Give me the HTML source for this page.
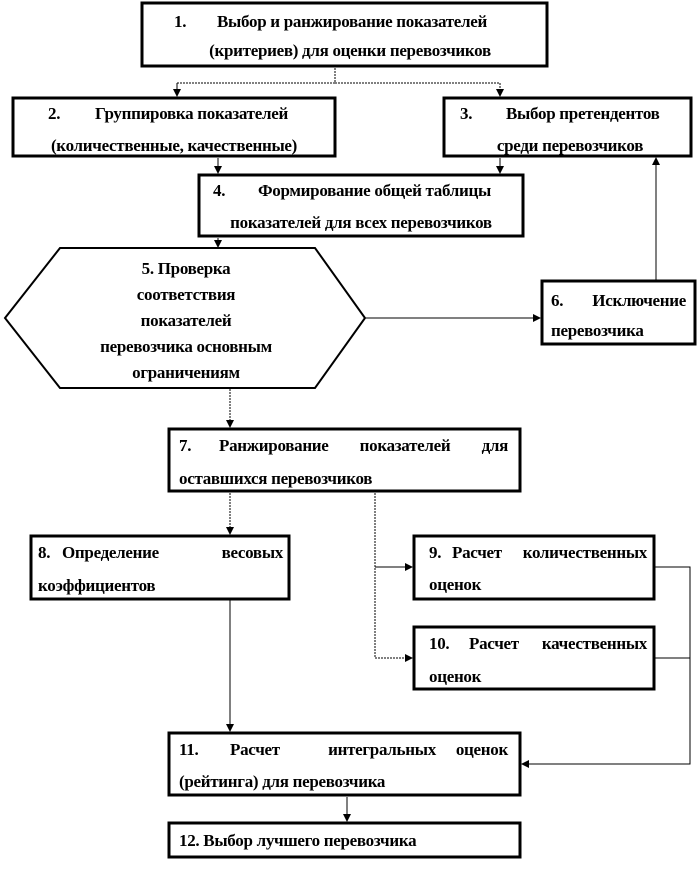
<!DOCTYPE html>
<html><head><meta charset="utf-8"><style>
body{margin:0;background:#fff}
svg text{font-family:"Liberation Serif",serif;font-weight:bold;font-size:17px;fill:#000;letter-spacing:-0.3px}
</style></head><body>
<svg width="700" height="865" viewBox="0 0 700 865" xmlns="http://www.w3.org/2000/svg">
<defs><marker id="a" markerWidth="8" markerHeight="8" refX="7" refY="4" orient="auto" markerUnits="userSpaceOnUse"><path d="M0,0 L8,4 L0,8z" fill="#000"/></marker></defs>
<g fill="#fff" stroke="#000" stroke-width="3">
<rect x="142" y="3" width="405" height="63"/>
<rect x="13" y="98" width="322" height="58"/>
<rect x="444" y="98" width="247" height="58"/>
<rect x="199" y="175" width="324" height="61"/>
<polygon points="5,318 60,248 315,248 365,318 315,388 60,388" stroke-width="2"/>
<rect x="542" y="281" width="153" height="63"/>
<rect x="169" y="429" width="351" height="62"/>
<rect x="31" y="536" width="258" height="63"/>
<rect x="414" y="536" width="240" height="63"/>
<rect x="414" y="627" width="240" height="62"/>
<rect x="169" y="733" width="351" height="62"/>
<rect x="169" y="823" width="351" height="34"/>
</g>
<g fill="none" stroke="#000" stroke-width="1">
<path d="M335,68 V83 H177 V96 M335,83 H500 V96" stroke-dasharray="2,1" marker-end="url(#a)"/>
<path d="M177,83 V96" stroke-dasharray="2,1" marker-end="url(#a)"/>
<path d="M218,158 V173" marker-end="url(#a)"/>
<path d="M500,158 V173" marker-end="url(#a)"/>
<path d="M218,238 V247" marker-end="url(#a)"/>
<path d="M365,318 H540" marker-end="url(#a)"/>
<path d="M656,280 V158" marker-end="url(#a)"/>
<path d="M230,389 V427" stroke-dasharray="2,1" marker-end="url(#a)"/>
<path d="M230,493 V534" stroke-dasharray="2,1" marker-end="url(#a)"/>
<path d="M375,493 V658 H412" stroke-dasharray="2,1" marker-end="url(#a)"/>
<path d="M375,567 H412" marker-end="url(#a)"/>
<path d="M230,600 V731" marker-end="url(#a)"/>
<path d="M655,567 H690 V764 H522" marker-end="url(#a)"/>
<path d="M655,658 H690"/>
<path d="M347,797 V821" marker-end="url(#a)"/>
</g>
<text x="174" y="27">1.</text><text x="217" y="27">Выбор и ранжирование показателей</text>
<text x="350" y="56" text-anchor="middle">(критериев) для оценки перевозчиков</text>
<text x="48" y="119">2.</text><text x="95" y="119">Группировка показателей</text>
<text x="174" y="151" text-anchor="middle">(количественные, качественные)</text>
<text x="460" y="119">3.</text><text x="506" y="119">Выбор претендентов</text>
<text x="570" y="151" text-anchor="middle">среди перевозчиков</text>
<text x="213" y="196">4.</text><text x="258" y="196">Формирование общей таблицы</text>
<text x="361" y="228" text-anchor="middle">показателей для всех перевозчиков</text>
<g text-anchor="middle"><text x="186" y="274">5. Проверка</text><text x="186" y="300">соответствия</text><text x="186" y="326">показателей</text><text x="186" y="352">перевозчика основным</text><text x="186" y="378">ограничениям</text></g>
<text x="551" y="306">6.</text><text x="686" y="306" text-anchor="end">Исключение</text>
<text x="551" y="336">перевозчика</text>
<text x="179" y="451">7.</text><text x="219" y="451">Ранжирование</text><text x="405" y="451" text-anchor="middle">показателей</text><text x="508" y="451" text-anchor="end">для</text>
<text x="179" y="484">оставшихся перевозчиков</text>
<text x="38" y="558">8.</text><text x="62" y="558">Определение</text><text x="283" y="558" text-anchor="end">весовых</text>
<text x="38" y="591">коэффициентов</text>
<text x="429" y="558">9.</text><text x="452" y="558">Расчет</text><text x="647" y="558" text-anchor="end">количественных</text>
<text x="429" y="649">10.</text><text x="469" y="649">Расчет</text><text x="647" y="649" text-anchor="end">качественных</text>
<text x="429" y="590">оценок</text>
<text x="429" y="682">оценок</text>
<text x="179" y="755">11.</text><text x="230" y="755">Расчет</text><text x="382" y="755" text-anchor="middle">интегральных</text><text x="508" y="755" text-anchor="end">оценок</text>
<text x="179" y="787">(рейтинга) для перевозчика</text>
<text x="179" y="846">12. Выбор лучшего перевозчика</text>
</svg>
</body></html>
